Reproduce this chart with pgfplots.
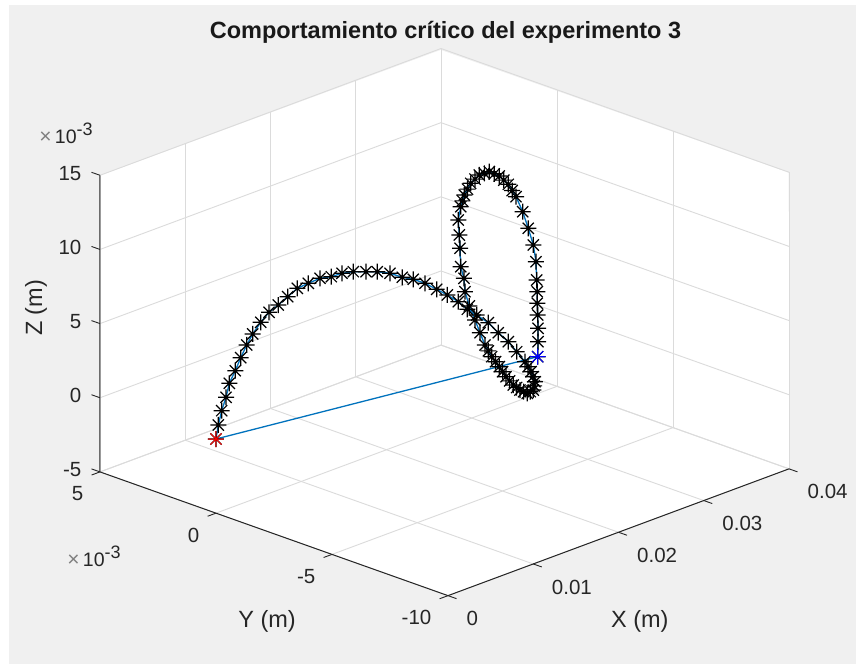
\documentclass[border=0pt]{standalone}
\usepackage{fontspec}
\setmainfont{Liberation Sans}
\usepackage{pgfplots}
\usepackage{pgfplotstable}
\pgfplotsset{compat=1.18}
\usetikzlibrary{backgrounds}
\definecolor{figbg}{HTML}{F0F0F0}
\definecolor{gridc}{HTML}{DBDBDB}
\definecolor{axc}{HTML}{262626}
\definecolor{mblue}{HTML}{0072BD}
\pgfdeclareplotmark{star8}{%
  \pgfpathmoveto{\pgfqpoint{-\pgfplotmarksize}{0pt}}\pgfpathlineto{\pgfqpoint{\pgfplotmarksize}{0pt}}%
  \pgfpathmoveto{\pgfqpoint{0pt}{-\pgfplotmarksize}}\pgfpathlineto{\pgfqpoint{0pt}{\pgfplotmarksize}}%
  \pgfpathmoveto{\pgfqpoint{-.7\pgfplotmarksize}{-.7\pgfplotmarksize}}\pgfpathlineto{\pgfqpoint{.7\pgfplotmarksize}{.7\pgfplotmarksize}}%
  \pgfpathmoveto{\pgfqpoint{-.7\pgfplotmarksize}{.7\pgfplotmarksize}}\pgfpathlineto{\pgfqpoint{.7\pgfplotmarksize}{-.7\pgfplotmarksize}}%
  \pgfusepathqstroke}
\pgfplotstableread{
x y z
0 0 0
.00023 -.016 .904
.00056 -.039 1.810
.00099 -.069 2.639
.00131 -.091 3.527
.00190 -.133 4.272
.00244 -.170 5.056
.00303 -.211 5.809
.00362 -.252 6.447
.00441 -.307 7.098
.00523 -.364 7.629
.00614 -.428 7.961
.00707 -.493 8.358
.00802 -.559 8.759
.00910 -.634 8.906
.01025 -.715 9.042
.01137 -.792 8.955
.01242 -.866 8.999
.01354 -.944 8.912
.01479 -1.031 8.693
.01590 -1.108 8.498
.01716 -1.196 8.171
.01837 -1.280 7.689
.01945 -1.356 7.365
.02061 -1.436 6.893
.02176 -1.517 6.287
.02281 -1.590 5.719
.02389 -1.665 5.078
.02478 -1.727 4.410
.02570 -1.792 3.864
.02685 -1.871 3.144
.02783 -1.940 2.297
.02882 -2.009 1.518
.02965 -2.066 .699
.03047 -2.123 -.119
.03077 -2.144 -.508
.03106 -2.165 -.897
.03126 -2.179 -1.269
.03145 -2.192 -1.640
.03137 -2.186 -1.906
.03129 -2.180 -2.171
.03099 -2.160 -2.230
.03069 -2.139 -2.289
.03033 -2.114 -2.115
.02997 -2.089 -1.941
.02964 -2.066 -1.715
.02931 -2.043 -1.488
.02895 -2.018 -1.145
.02859 -1.993 -.802
.02826 -1.970 -.408
.02793 -1.947 -.013
.02756 -1.921 .390
.02718 -1.895 .793
.02685 -1.872 1.245
.02652 -1.849 1.697
.02603 -1.814 2.613
.02554 -1.780 3.556
.02498 -1.741 4.598
.02455 -1.711 5.637
.02445 -1.704 6.557
.02413 -1.682 7.397
.02406 -1.677 8.649
.02399 -1.672 9.558
.02389 -1.665 10.587
.02413 -1.682 11.442
.02430 -1.694 11.806
.02448 -1.706 12.169
.02480 -1.728 12.509
.02511 -1.750 12.848
.02554 -1.780 13.054
.02596 -1.809 13.259
.02646 -1.844 13.284
.02695 -1.878 13.309
.02744 -1.912 13.078
.02793 -1.947 12.846
.02838 -1.978 12.489
.02882 -2.009 12.131
.02920 -2.036 11.647
.02958 -2.062 11.163
.03024 -2.108 10.035
.03079 -2.146 8.819
.03129 -2.180 7.607
.03155 -2.199 6.434
.03162 -2.204 5.188
.03168 -2.208 4.389
.03168 -2.208 3.607
.03172 -2.211 2.811
.03175 -2.213 1.909
.03175 -2.213 1.005
.03172 -2.211 0
}\pathdata
\newcommand{\offs}{{\fontsize{21}{22}\selectfont\color{gray}×}\,10\raisebox{8pt}{\fontsize{18}{18}\selectfont -3}}
\begin{document}
\begin{tikzpicture}
\begin{axis}[
  x={(8525pt,3170pt)}, y={(-23.2pt,8.25pt)}, z={(0pt,14.83pt)},
  xmin=0, xmax=0.04, ymin=-10, ymax=5, zmin=-5, zmax=15,
  xtick={0,0.01,0.02,0.03,0.04},
  xticklabels={0,0.01,0.02,0.03,0.04},
  ytick={-10,-5,0,5},
  ztick={-5,0,5,10,15},
  scaled ticks=false,
  clip=false,
  grid=major,
  grid style={gridc,line width=0.9pt},
  axis line style={draw=none},
  tick style={draw=none},
  major tick length=9pt,
  tick align=outside,
  tick pos=left,
  /pgf/number format/assume math mode=true,
  tick label style={font=\fontsize{20.5}{22}\selectfont,text=axc,inner sep=0pt},
  xticklabel style={anchor=west,xshift=10pt,yshift=-20pt},
  yticklabel style={anchor=east,xshift=-8pt,yshift=-19pt},
  zticklabel style={anchor=east,xshift=-10pt,yshift=-1pt},
  label style={font=\fontsize{23.5}{26}\selectfont,text=axc},
  xlabel={X (m)},
  ylabel={Y (m)},
  zlabel={Z (m)},
  xlabel style={at={(axis cs:0.0225,-10,-5)},anchor=center,rotate=0,yshift=-97pt},
  ylabel style={at={(axis cs:0,-2.2,-5)},anchor=center,rotate=0,yshift=-90pt},
  zlabel style={at={(axis cs:0,5,6.06)},anchor=center,rotate=0,yshift=64pt},
  title={Comportamiento crítico del experimento 3},
  title style={font=\fontsize{23.5}{26}\selectfont\bfseries,text=black!90,at={(axis cs:0.04,5,15)},anchor=center,xshift=4.5pt,yshift=10pt},
]
\coordinate (O) at (axis cs:0,0,0);
\draw[axc,line width=1pt] (axis cs:0,5,15) -- (axis cs:0,5,-5) -- (axis cs:0,-10,-5) -- (axis cs:0.04,-10,-5);
\draw[axc,line width=0.9pt] (axis cs:0,-10,-5) -- ++(8.5pt,-3pt);
\draw[axc,line width=0.9pt] (axis cs:0.01,-10,-5) -- ++(8.5pt,-3pt);
\draw[axc,line width=0.9pt] (axis cs:0.02,-10,-5) -- ++(8.5pt,-3pt);
\draw[axc,line width=0.9pt] (axis cs:0.03,-10,-5) -- ++(8.5pt,-3pt);
\draw[axc,line width=0.9pt] (axis cs:0.04,-10,-5) -- ++(8.5pt,-3pt);
\draw[axc,line width=0.9pt] (axis cs:0,5,-5) -- ++(-8.4pt,-3.1pt);
\draw[axc,line width=0.9pt] (axis cs:0,0,-5) -- ++(-8.4pt,-3.1pt);
\draw[axc,line width=0.9pt] (axis cs:0,-5,-5) -- ++(-8.4pt,-3.1pt);
\draw[axc,line width=0.9pt] (axis cs:0,-10,-5) -- ++(-8.4pt,-3.1pt);
\draw[axc,line width=0.9pt] (axis cs:0,5,-5) -- ++(-8.5pt,3pt);
\draw[axc,line width=0.9pt] (axis cs:0,5,0) -- ++(-8.5pt,3pt);
\draw[axc,line width=0.9pt] (axis cs:0,5,5) -- ++(-8.5pt,3pt);
\draw[axc,line width=0.9pt] (axis cs:0,5,10) -- ++(-8.5pt,3pt);
\draw[axc,line width=0.9pt] (axis cs:0,5,15) -- ++(-8.5pt,3pt);
\addplot3[only marks,black,mark=star8,mark size=8pt,mark options={line width=1.2pt}] table[x=x,y=y,z=z] {\pathdata};
\addplot3[mblue,line width=1.3pt,no marks] table[x=x,y=y,z=z] {\pathdata};
\addplot3[mblue,line width=1.3pt,no marks] coordinates {(.03172,-2.211,0) (0,0,0)};
\addplot3[only marks,red,mark=star8,mark size=8pt,mark options={line width=1pt}] coordinates {(0,0,0)};
\addplot3[only marks,blue,mark=star8,mark size=8pt,mark options={line width=1pt}] coordinates {(.03172,-2.211,0)};
\end{axis}
\begin{scope}[shift={(O)},x=1pt,y=-1pt,shift={(-216,-439)}]
\node[text=axc,font=\fontsize{19.5}{22}\selectfont] at (66,133) {\offs};
\node[text=axc,font=\fontsize{19.5}{22}\selectfont] at (94,556) {\offs};
\begin{pgfonlayer}{background}
\fill[white] (0,0) rectangle (856,664);
\fill[figbg] (9,5) rectangle (856,664);
\fill[white] (100,472) -- (100,175.7) -- (440.7,50) -- (788.7,172.7) -- (789,469) -- (448,595.7) -- cycle;
\end{pgfonlayer}
\end{scope}
\end{tikzpicture}
\end{document}
